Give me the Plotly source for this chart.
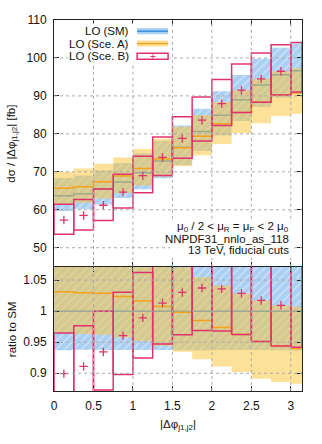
import numpy as np
import plotly.graph_objects as go

# bins in |dphi_j1,j2|
edges = [0, 0.25, 0.5, 0.75, 1.0, 1.25, 1.5, 1.75, 2.0, 2.25, 2.5, 2.75, 3.0, np.pi]

# LO (SM): central value and scale band [fb]
sm_cen = [63.7, 64.2, 65.5, 67.3, 69.75, 72.85, 76.5, 80.6, 84.9, 88.96, 92.9, 95.6, 96.6]
sm_lo = [59.7, 60.2, 61.4, 63.1, 65.4, 68.3, 71.7, 75.5, 79.6, 83.4, 87.1, 89.6, 90.5]
sm_hi = [68.4, 69.0, 70.4, 72.3, 74.9, 78.2, 82.2, 86.6, 91.2, 95.5, 99.8, 102.7, 103.8]
# LO (Sce. A)
a_cen = [65.7, 66.1, 67.4, 68.9, 70.9, 73.4, 76.35, 79.4, 82.65, 85.6, 88.35, 90.25, 90.8]
a_lo = [61.45, 61.85, 63.0, 64.45, 66.4, 68.8, 71.5, 74.35, 77.35, 80.25, 82.8, 84.7, 85.3]
a_hi = [70.0, 70.9, 72.1, 73.8, 76.0, 78.7, 81.9, 85.0, 88.4, 91.5, 94.5, 96.5, 97.3]
# LO (Sce. B)
b_cen = [57.3, 58.5, 61.2, 64.65, 69.0, 73.8, 78.8, 83.6, 87.95, 91.5, 94.5, 96.5, None]
b_lo = [53.55, 54.65, 57.2, 60.45, 64.5, 69.0, 73.6, 78.1, 82.2, 85.6, 88.35, 90.25, 91.0]
b_hi = [61.45, 62.7, 65.5, 69.35, 74.1, 79.2, 84.5, 89.7, 94.3, 98.4, 101.3, 103.5, 104.1]

x_ticks = [0, 0.5, 1, 1.5, 2, 2.5, 3]
x_labels = ["0", "0.5", "1", "1.5", "2", "2.5", "3"]
y_ticks = [50, 60, 70, 80, 90, 100, 110]
r_ticks = [0.9, 0.95, 1, 1.05]
r_labels = ["0.9", "0.95", "1", "1.05"]

BLUE_BG = "#a9cff3"
BLUE_FG = "#cde2f6"
BLUE_LINE = "#3d8fdf"
YELLOW = "rgba(254,196,50,0.5)"
ORANGE = "#f4a21c"
RED = "#e0336b"
FONT = "Liberation Sans, Arial, sans-serif"

centers = [(edges[i] + edges[i + 1]) / 2 for i in range(len(edges) - 1)]


def step(v):
    v = list(v)
    return v + [v[-1]]


def ratio(v):
    return [None if x is None else x / c for x, c in zip(v, sm_cen)]


def boxes(lo, hi):
    xs, ys = [], []
    for i in range(len(lo)):
        x0, x1 = edges[i], edges[i + 1]
        xs += [x0, x1, x1, x0, x0, None]
        ys += [lo[i], lo[i], hi[i], hi[i], lo[i], None]
    return xs, ys


fig = go.Figure()


def add_panel(xa, ya, smc, sml, smh, ac, al, ah, bc, bl, bh):
    kw = dict(xaxis=xa, yaxis=ya, showlegend=False, hoverinfo="skip")
    fig.add_trace(go.Scatter(x=edges, y=step(sml), mode="lines", line=dict(width=0, shape="hv"), **kw))
    fig.add_trace(go.Scatter(x=edges, y=step(smh), mode="lines", line=dict(width=0, shape="hv"),
                             fill="tonexty", fillcolor=BLUE_BG,
                             fillpattern=dict(shape="/", bgcolor=BLUE_BG, fgcolor=BLUE_FG,
                                              size=6, solidity=0.25), **kw))
    fig.add_trace(go.Scatter(x=edges, y=step(smc), mode="lines",
                             line=dict(width=1.5, shape="hv", color=BLUE_LINE), **kw))
    fig.add_trace(go.Scatter(x=edges, y=step(al), mode="lines", line=dict(width=0, shape="hv"), **kw))
    fig.add_trace(go.Scatter(x=edges, y=step(ah), mode="lines", line=dict(width=0, shape="hv"),
                             fill="tonexty", fillcolor=YELLOW, **kw))
    fig.add_trace(go.Scatter(x=edges, y=step(ac), mode="lines",
                             line=dict(width=1.5, shape="hv", color=ORANGE), **kw))
    bx, by = boxes(bl, bh)
    fig.add_trace(go.Scatter(x=bx, y=by, mode="lines", line=dict(width=1.5, color=RED), **kw))
    fig.add_trace(go.Scatter(x=centers, y=bc, mode="markers",
                             marker=dict(symbol="cross-thin", size=6, color=RED,
                                         line=dict(width=1.3, color=RED)), **kw))


add_panel("x", "y", sm_cen, sm_lo, sm_hi, a_cen, a_lo, a_hi, b_cen, b_lo, b_hi)
add_panel("x2", "y2", ratio(sm_cen), ratio(sm_lo), ratio(sm_hi), ratio(a_cen), ratio(a_lo),
          ratio(a_hi), ratio(b_cen), ratio(b_lo), ratio(b_hi))

Y_RANGE = [45, 110]
R_RANGE = [0.8715, 1.0715]
X_RANGE = [0, np.pi]

shapes = []
grid = dict(type="line", layer="above", line=dict(color="#aaaaaa", width=1, dash="dot"))
for xt in x_ticks[1:]:
    shapes.append(dict(grid, xref="x", yref="y", x0=xt, x1=xt, y0=Y_RANGE[0], y1=Y_RANGE[1]))
    shapes.append(dict(grid, xref="x2", yref="y2", x0=xt, x1=xt, y0=R_RANGE[0], y1=R_RANGE[1]))
for yt in y_ticks[:-1]:
    shapes.append(dict(grid, xref="x", yref="y", x0=X_RANGE[0], x1=X_RANGE[1], y0=yt, y1=yt))
for yt in r_ticks:
    shapes.append(dict(grid, xref="x2", yref="y2", x0=X_RANGE[0], x1=X_RANGE[1], y0=yt, y1=yt))

# opaque key box and opaque info box
shapes.append(dict(type="rect", layer="above", xref="x domain", yref="y domain",
                   x0=0.056, x1=0.468, y0=0.828, y1=0.986, fillcolor="white", line=dict(width=0)))
shapes.append(dict(type="rect", layer="above", xref="x domain", yref="y domain",
                   x0=0.468, x1=0.96, y0=0.036, y1=0.183, fillcolor="white", line=dict(width=0)))
# key samples
sx0, sx1 = 0.335, 0.46
rows = [0.9546, 0.9047, 0.8531]
h = 0.0125
shapes.append(dict(type="rect", layer="above", xref="x domain", yref="y domain",
                   x0=sx0, x1=sx1, y0=rows[0] - h, y1=rows[0] + h, fillcolor=BLUE_BG, line=dict(width=0)))
shapes.append(dict(type="line", layer="above", xref="x domain", yref="y domain",
                   x0=sx0, x1=sx1, y0=rows[0], y1=rows[0], line=dict(color=BLUE_LINE, width=1.5)))
shapes.append(dict(type="rect", layer="above", xref="x domain", yref="y domain",
                   x0=sx0, x1=sx1, y0=rows[1] - h, y1=rows[1] + h, fillcolor=YELLOW, line=dict(width=0)))
shapes.append(dict(type="line", layer="above", xref="x domain", yref="y domain",
                   x0=sx0, x1=sx1, y0=rows[1], y1=rows[1], line=dict(color=ORANGE, width=1.5)))
shapes.append(dict(type="rect", layer="above", xref="x domain", yref="y domain",
                   x0=sx0, x1=sx1, y0=rows[2] - h, y1=rows[2] + h, fillcolor="rgba(0,0,0,0)",
                   line=dict(color=RED, width=1.5)))

tf = dict(family=FONT, size=11.5, color="#111")
annotations = []
for txt, yv in zip(["LO (SM)", "LO (Sce. A)", "LO (Sce. B)"], rows):
    annotations.append(dict(text=txt, xref="x domain", yref="y domain", x=0.31, y=yv,
                            xanchor="right", yanchor="middle", showarrow=False, font=tf))
annotations.append(dict(text="+", xref="x domain", yref="y domain", x=(sx0 + sx1) / 2, y=rows[2],
                        xanchor="center", yanchor="middle", showarrow=False,
                        font=dict(family=FONT, size=10, color=RED)))

info = ["μ<sub>0</sub> / 2 < μ<sub>R</sub> = μ<sub>F</sub> < 2 μ<sub>0</sub>",
        "NNPDF31_nnlo_as_118", "13 TeV, fiducial cuts"]
for txt, yv in zip(info, [0.163, 0.113, 0.066]):
    annotations.append(dict(text=txt, xref="x domain", yref="y domain", x=0.955, y=yv,
                            xanchor="right", yanchor="middle", showarrow=False, font=tf))

annotations.append(dict(text="dσ / |Δφ<sub>j1,j2</sub>| [fb]", xref="paper", yref="y domain",
                        x=-0.168, y=0.5, textangle=-90, xanchor="center", yanchor="middle",
                        showarrow=False, font=tf))
annotations.append(dict(text="ratio to SM", xref="paper", yref="y2 domain",
                        x=-0.168, y=0.5, textangle=-90, xanchor="center", yanchor="middle",
                        showarrow=False, font=tf))
annotations.append(dict(text="|Δφ<sub>j1,j2</sub>|", xref="paper", yref="paper",
                        x=0.5, y=-0.092, xanchor="center", yanchor="middle",
                        showarrow=False, font=tf))

axis = dict(showline=True, linecolor="#222", linewidth=1, mirror="allticks", ticks="inside",
            ticklen=5, tickcolor="#222", showgrid=False, zeroline=False, automargin=False,
            tickfont=dict(family=FONT, size=12, color="#111"))

fig.update_layout(
    template="none",
    width=322, height=444,
    margin=dict(l=54, r=20, t=20, b=53, autoexpand=False),
    plot_bgcolor="white", paper_bgcolor="white",
    xaxis=dict(axis, domain=[0, 1], anchor="y", range=X_RANGE, tickvals=x_ticks,
               showticklabels=False),
    yaxis=dict(axis, domain=[0.335, 1], anchor="x", range=Y_RANGE, tickvals=y_ticks,
               ticklabelstandoff=4),
    xaxis2=dict(axis, domain=[0, 1], anchor="y2", range=X_RANGE, tickvals=x_ticks,
                ticktext=x_labels, ticklabelstandoff=4),
    yaxis2=dict(axis, domain=[0, 0.335], anchor="x2", range=R_RANGE, tickvals=r_ticks,
                ticktext=r_labels, ticklabelstandoff=4),
    shapes=shapes,
    annotations=annotations,
    font=dict(family=FONT),
)

# drop the default page margin so the figure sits at the window's top-left corner
fig.write_html("out.html", config={"displayModeBar": False},
               post_script="document.body.style.margin = '0px';")
